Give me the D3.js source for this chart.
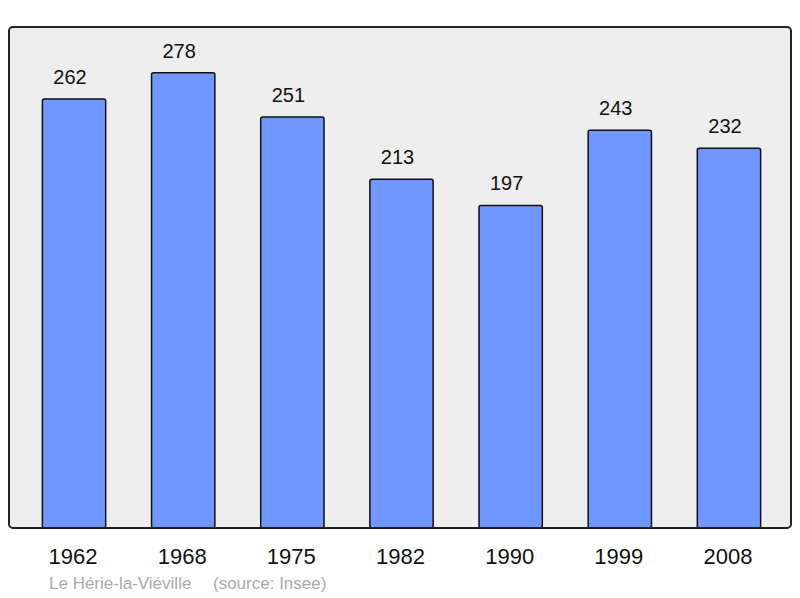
<!DOCTYPE html>
<html>
<head>
<meta charset="utf-8">
<script src="https://cdn.jsdelivr.net/npm/d3@7"></script>
<style>
  body { margin: 0; background: #ffffff; }
  svg { display: block; font-family: "Liberation Sans", Arial, sans-serif; }
</style>
</head>
<body>
<div id="chart"></div>
<script>
// population data
const years = ["1962", "1968", "1975", "1982", "1990", "1999", "2008"];
const population = [262, 278, 251, 213, 197, 243, 232];
const commune = "Le Hérie-la-Viéville";
const source = "(source: Insee)";

const width = 800;
const height = 598;
const frame = { left: 9, top: 27, right: 791, bottom: 528 };

const svg = d3.select("#chart")
    .append("svg")
    .attr("width", width)
    .attr("height", height);

// plot background
svg.append("rect")
    .attr("x", frame.left)
    .attr("y", frame.top)
    .attr("width", frame.right - frame.left)
    .attr("height", frame.bottom - frame.top)
    .attr("rx", 4)
    .attr("fill", "#eeeeee")
    .attr("stroke", "#222222")
    .attr("stroke-width", 2);

const x = d3.scaleBand()
    .domain(years)
    .range([frame.left + 5, frame.right - 2])
    .paddingInner(0.42)
    .paddingOuter(0.26);

const y = d3.scaleLinear()
    .domain([0, 306])
    .range([frame.bottom, frame.top]);

const data = years.map((yr, i) => ({ year: yr, value: population[i] }));

// bars
svg.append("g")
    .selectAll("rect")
    .data(data)
    .enter().append("rect")
    .attr("x", d => x(d.year))
    .attr("y", d => y(d.value))
    .attr("width", x.bandwidth())
    .attr("height", d => y(0) - y(d.value))
    .attr("rx", 2)
    .attr("fill", "#7096ff")
    .attr("stroke", "#111111")
    .attr("stroke-width", 1.5);

// redraw bottom frame line over the bars
svg.append("line")
    .attr("x1", frame.left + 3)
    .attr("x2", frame.right - 3)
    .attr("y1", frame.bottom)
    .attr("y2", frame.bottom)
    .attr("stroke", "#222222")
    .attr("stroke-width", 2);

// value labels (sit slightly left of the bar centre, as in the original)
svg.append("g")
    .selectAll("text")
    .data(data)
    .enter().append("text")
    .attr("x", d => x(d.year) + x.bandwidth() / 2 - 4)
    .attr("y", d => y(d.value) - 15)
    .attr("text-anchor", "middle")
    .attr("font-size", 20)
    .attr("fill", "#111111")
    .text(d => d.value);

// year labels
svg.append("g")
    .selectAll("text")
    .data(years)
    .enter().append("text")
    .attr("x", d => x(d) + x.bandwidth() / 2 - 1)
    .attr("y", 564)
    .attr("text-anchor", "middle")
    .attr("font-size", 22)
    .attr("fill", "#111111")
    .text(d => d);

// footer
svg.append("text")
    .attr("x", 49)
    .attr("y", 589)
    .attr("font-size", 17)
    .attr("fill", "#aaaaaa")
    .text(commune);

svg.append("text")
    .attr("x", 213)
    .attr("y", 589)
    .attr("font-size", 17)
    .attr("fill", "#aaaaaa")
    .text(source);
</script>
</body>
</html>
